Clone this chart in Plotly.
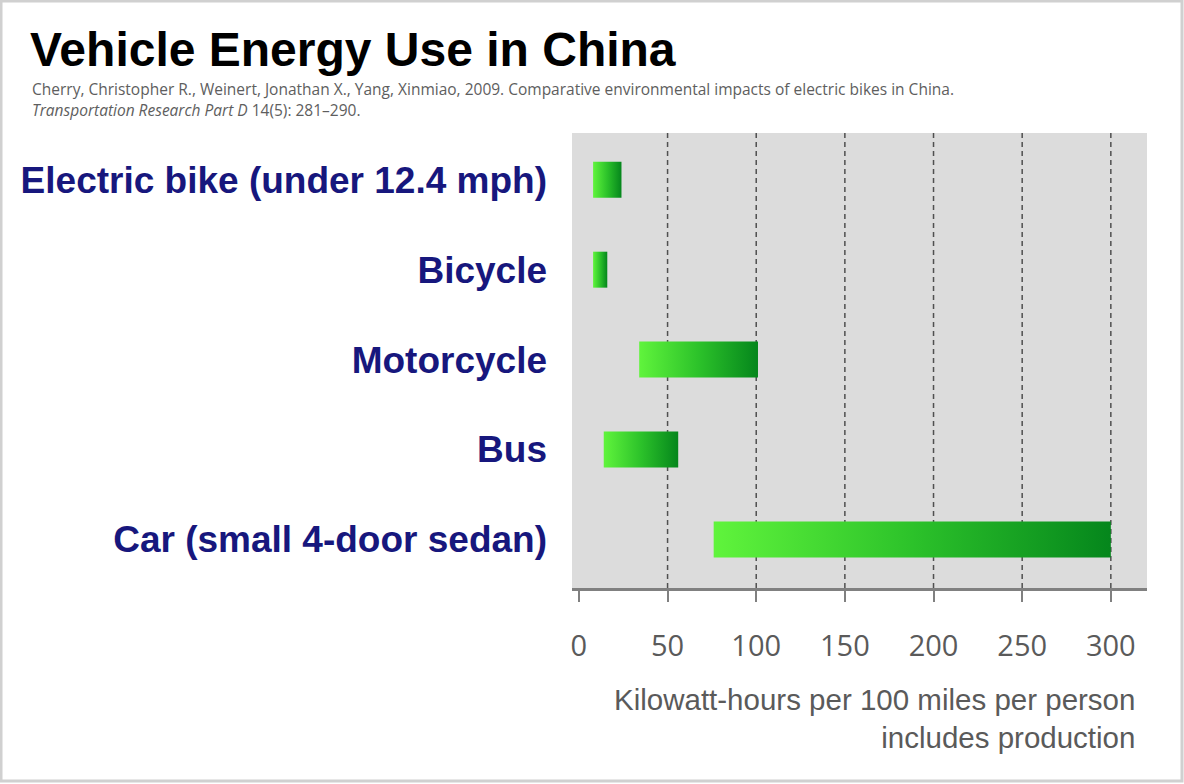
import plotly.graph_objects as go

# ---- data ----
categories = [
    "Electric bike (under 12.4 mph)",
    "Bicycle",
    "Motorcycle",
    "Bus",
    "Car (small 4-door sedan)",
]
energy_low = [8, 8, 34, 14, 76]
energy_high = [24, 16, 101, 56, 300]
x_ticks = [0, 50, 100, 150, 200, 250, 300]
x_tick_labels = ["0", "50", "100", "150", "200", "250", "300"]

title_text = "Vehicle Energy Use in China"
citation_line1 = ("Cherry, Christopher R., Weinert, Jonathan X., Yang, Xinmiao, 2009. "
                  "Comparative environmental impacts of electric bikes in China.")
citation_line2 = "<i>Transportation Research Part D</i> 14(5): 281–290."
axis_title = "Kilowatt-hours per 100 miles per person<br>includes production"

# ---- figure ----
W, H = 1184, 784
ML, MR, MT, MB = 572, 37, 133, 196
PW, PH = W - ML - MR, H - MT - MB


def px_x(px):
    return (px - ML) / PW


def px_y(py):
    return (H - MB - py) / PH


fig = go.Figure()
half = 0.2
for i, (lo, hi) in enumerate(zip(energy_low, energy_high)):
    fig.add_trace(go.Scatter(
        x=[lo, hi, hi, lo, lo],
        y=[i - half, i - half, i + half, i + half, i - half],
        mode="lines",
        fill="toself",
        line=dict(width=0, color="rgba(0,0,0,0)"),
        fillgradient=dict(type="horizontal",
                          colorscale=[[0, "#60f43c"], [0.5, "#2cc22a"], [1, "#05861c"]]),
        showlegend=False,
        hoverinfo="skip",
    ))

# dashed grid lines (not at zero)
for v in x_ticks[1:]:
    fig.add_shape(type="line", x0=v, x1=v, xref="x", yref="paper", y0=0, y1=1,
                  line=dict(color="#505050", width=1.5, dash="5px,4px"), layer="below")

# frame of the slide
fig.add_shape(type="rect", xref="paper", yref="paper",
              x0=px_x(1), x1=px_x(1182), y0=px_y(781), y1=px_y(1),
              line=dict(color="#d0d0d0", width=3))

fig.update_xaxes(
    range=[-3.9, 320.4],
    tickvals=x_ticks, ticktext=x_tick_labels,
    ticks="outside", ticklen=11, tickwidth=2, tickcolor="#808080",
    showline=True, linecolor="#808080", linewidth=3,
    showgrid=False, zeroline=False,
    tickfont=dict(family="Open Sans", size=29, color="#5a5a5a"),
    ticklabelstandoff=19,
)
fig.update_yaxes(
    range=[4.54, -0.52],
    tickvals=list(range(len(categories))), ticktext=categories,
    ticks="", showgrid=False, zeroline=False, showline=False,
    tickfont=dict(family="Liberation Sans", size=37, color="#17177d", weight="bold"),
    ticklabelstandoff=24,
)

fig.add_annotation(text=title_text, xref="paper", yref="paper",
                   x=px_x(28), y=px_y(50), xanchor="left", yanchor="middle",
                   showarrow=False,
                   font=dict(family="Liberation Sans", size=48, color="#000000", weight="bold"))
fig.add_annotation(text=citation_line1, xref="paper", yref="paper",
                   x=px_x(30), y=px_y(89), xanchor="left", yanchor="middle",
                   showarrow=False,
                   font=dict(family="Open Sans", size=15.5, color="#5e5e5e"))
fig.add_annotation(text=citation_line2, xref="paper", yref="paper",
                   x=px_x(30), y=px_y(110), xanchor="left", yanchor="middle",
                   showarrow=False,
                   font=dict(family="Open Sans", size=15.5, color="#5e5e5e"))
fig.add_annotation(text=axis_title, xref="paper", yref="paper",
                   x=px_x(1137), y=px_y(719), xanchor="right", yanchor="middle",
                   align="right", showarrow=False,
                   font=dict(family="Liberation Sans", size=29.5, color="#5a5a5a"))

fig.update_layout(
    width=W, height=H,
    margin=dict(l=ML, r=MR, t=MT, b=MB, pad=0),
    paper_bgcolor="#ffffff",
    plot_bgcolor="#dcdcdc",
    showlegend=False,
)

fig.write_html("out.html")
